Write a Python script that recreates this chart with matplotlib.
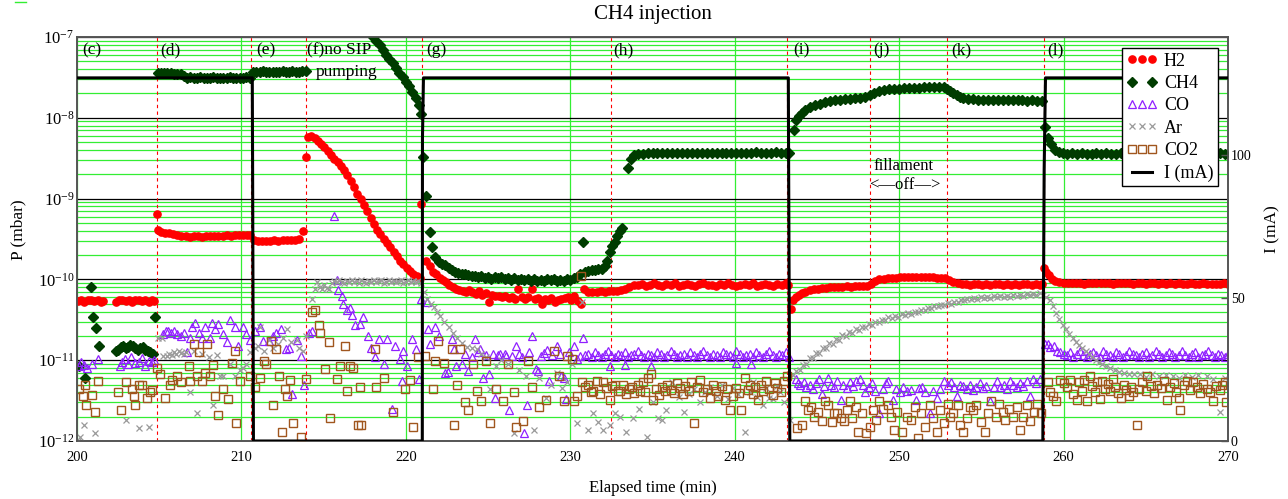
import numpy as np
import matplotlib
matplotlib.use('Agg')
import matplotlib.pyplot as plt
from matplotlib.lines import Line2D
from matplotlib.legend_handler import HandlerLine2D
from matplotlib.ticker import LogLocator, FuncFormatter, NullFormatter

plt.rcParams['font.family'] = ['Liberation Serif', 'DejaVu Serif']
plt.rcParams['mathtext.fontset'] = 'custom'
plt.rcParams['mathtext.rm'] = 'Liberation Serif'
plt.rcParams['mathtext.it'] = 'Liberation Serif:italic'

# (time in min, pressure) -- H2 in units of 1e-11 mbar
h2 = [
    (200.05, 5.4), (200.25, 5.6), (200.45, 5.3), (200.65, 5.5), (200.85, 5.6), (201.05, 5.4), (201.25, 5.5),
    (201.45, 5.3), (201.6, 5.4),
    (202.35, 5.3), (202.55, 5.5), (202.75, 5.6), (202.95, 5.4), (203.15, 5.5), (203.35, 5.3), (203.55, 5.5),
    (203.75, 5.6), (203.95, 5.4), (204.15, 5.5), (204.35, 5.3), (204.55, 5.6), (204.7, 5.4),
    (204.85, 65), (204.95, 41), (205.1, 39), (205.35, 38), (205.6, 37), (205.85, 36), (206.1, 35), (206.35, 34.5),
    (206.6, 34), (206.85, 33.5), (207.1, 34), (207.35, 34), (207.6, 33.5), (207.85, 34), (208.1, 34), (208.35, 34.5),
    (208.6, 34), (208.85, 34.5), (209.1, 35), (209.35, 34.5), (209.6, 35), (209.85, 35), (210.1, 35.5), (210.35, 35),
    (210.55, 35),
    (210.75, 31), (211.0, 30), (211.25, 29.5), (211.5, 30), (211.75, 30), (212.0, 30.5), (212.25, 30), (212.5, 30.5),
    (212.75, 30.5), (213.0, 31), (213.25, 31), (213.5, 32), (213.75, 40),
    (213.9, 330), (214.05, 580), (214.25, 590), (214.45, 570), (214.65, 520), (214.85, 470), (215.05, 430),
    (215.25, 390), (215.45, 350), (215.65, 310), (215.85, 280), (216.05, 250), (216.25, 225), (216.45, 195),
    (216.65, 165), (216.85, 140), (217.05, 115), (217.25, 98), (217.45, 83), (217.65, 70), (217.85, 58), (218.05, 48),
    (218.25, 41), (218.45, 36), (218.65, 32), (218.85, 28), (219.05, 25), (219.25, 22), (219.45, 19.5), (219.65, 17),
    (219.85, 15.5), (220.05, 14), (220.25, 12.8), (220.45, 11.8), (220.65, 11), (220.85, 10.4),
    (220.95, 85), (221.25, 17), (221.45, 14.5), (221.65, 12.5), (221.85, 11.5), (222.05, 10.5), (222.25, 9.8),
    (222.45, 9.2), (222.65, 8.5), (222.85, 8.0), (223.05, 7.6), (223.25, 7.4), (223.45, 7.2), (223.65, 7.0),
    (223.85, 7.3), (224.05, 6.9), (224.25, 6.6), (224.45, 7.2), (224.65, 6.5), (224.85, 6.8), (225.05, 5.3),
    (225.25, 6.4), (225.45, 6.2), (225.65, 6.3), (225.85, 6.0), (226.05, 6.2), (226.25, 5.9), (226.45, 6.1),
    (226.65, 5.8), (226.85, 7.6), (227.05, 6.0), (227.25, 5.8), (227.45, 6.1), (227.65, 7.6), (227.85, 5.7),
    (228.05, 5.9), (228.25, 5.0), (228.45, 5.8), (228.65, 5.6), (228.85, 5.9), (229.05, 5.2), (229.25, 5.5),
    (229.45, 5.7), (229.65, 5.9), (229.85, 6.1), (230.05, 5.6), (230.25, 6.3), (230.45, 5.4), (230.65, 5.0),
    (230.85, 7.5),
    (231.1, 6.9), (231.35, 7.0), (231.6, 7.0), (231.85, 7.1), (232.1, 7.0), (232.35, 7.1), (232.6, 7.2),
    (232.85, 7.2), (233.1, 7.3), (233.35, 7.6), (233.6, 8.1), (233.85, 8.5),
    (234.1, 8.6), (234.35, 8.7), (234.6, 8.4), (234.85, 8.6), (235.1, 8.9), (235.35, 8.6), (235.6, 8.4),
    (235.85, 8.7), (236.1, 8.6), (236.35, 8.9), (236.6, 8.4), (236.85, 8.6), (237.1, 8.7), (237.35, 8.6),
    (237.6, 8.4), (237.85, 8.7), (238.1, 8.9), (238.35, 8.6), (238.6, 8.6), (238.85, 8.4), (239.1, 8.7),
    (239.35, 8.6), (239.6, 8.9), (239.85, 8.6), (240.1, 8.4), (240.35, 8.6), (240.6, 8.7), (240.85, 8.6),
    (241.1, 8.9), (241.35, 8.4), (241.6, 8.6), (241.85, 8.7), (242.1, 8.6), (242.35, 8.4), (242.6, 8.7),
    (242.85, 8.6), (243.1, 8.9), (243.25, 8.6),
    (243.45, 4.3), (243.55, 5.5), (243.7, 6.0), (243.9, 6.5), (244.1, 6.8), (244.3, 7.0), (244.55, 7.3),
    (244.8, 7.5), (245.05, 7.6), (245.3, 7.8), (245.55, 7.9), (245.8, 8.0), (246.05, 8.0), (246.3, 8.1),
    (246.55, 8.1), (246.8, 8.2), (247.05, 8.1), (247.3, 8.2), (247.55, 8.2), (247.8, 8.3), (248.05, 8.3),
    (248.3, 8.8), (248.55, 9.5), (248.8, 10.0), (249.05, 10.2), (249.3, 10.4), (249.55, 10.5), (249.8, 10.5),
    (250.05, 10.6), (250.3, 10.6), (250.55, 10.7), (250.8, 10.6), (251.05, 10.7), (251.3, 10.6), (251.55, 10.7),
    (251.8, 10.6), (252.05, 10.6), (252.3, 10.5), (252.55, 10.5),
    (252.8, 10.3), (253.05, 9.8), (253.3, 9.2), (253.55, 8.9), (253.8, 8.7), (254.05, 8.7), (254.3, 8.6),
    (254.55, 8.7), (254.8, 8.8), (255.05, 8.6), (255.3, 8.7), (255.55, 8.6), (255.8, 8.7), (256.05, 8.8),
    (256.3, 8.6), (256.55, 8.7), (256.8, 8.6), (257.05, 8.7), (257.3, 8.6), (257.55, 8.8), (257.8, 8.7),
    (258.05, 8.6), (258.3, 8.7), (258.55, 8.6), (258.7, 8.7),
    (258.8, 14), (258.95, 12.5), (259.1, 11.2), (259.3, 10.0), (259.5, 9.5), (259.75, 9.2),
    (260.0, 9.1), (260.25, 9.0), (260.5, 8.9), (260.75, 9.1), (261.0, 9.0), (261.25, 8.8), (261.5, 9.0),
    (261.75, 9.1), (262.0, 8.9), (262.25, 9.0), (262.5, 8.9), (262.75, 9.0), (263.0, 8.8), (263.25, 9.0),
    (263.5, 9.1), (263.75, 8.9), (264.0, 9.0), (264.25, 8.8), (264.5, 8.9), (264.75, 9.0), (265.0, 8.8),
    (265.25, 8.9), (265.5, 9.0), (265.75, 8.8), (266.0, 8.9), (266.25, 8.7), (266.5, 8.9), (266.75, 8.8),
    (267.0, 8.9), (267.25, 8.7), (267.5, 8.8), (267.75, 8.9), (268.0, 8.7), (268.25, 8.8), (268.5, 8.9),
    (268.75, 8.7), (269.0, 8.8), (269.25, 8.7), (269.5, 8.8), (269.75, 8.9), (270.0, 8.8),
]

# CH4 in units of 1e-11 mbar
ch4 = [
    (200.1, 0.85), (200.5, 0.6), (200.85, 8.0), (201.0, 3.4), (201.15, 2.5), (201.35, 1.5),
    (202.35, 1.3), (202.5, 1.35), (202.65, 1.45), (202.8, 1.5), (202.95, 1.4), (203.1, 1.45), (203.25, 1.55),
    (203.4, 1.5), (203.55, 1.4), (203.7, 1.35), (203.85, 1.4), (204.0, 1.45), (204.15, 1.35), (204.3, 1.3),
    (204.45, 1.25), (204.6, 1.2), (204.75, 3.4),
    (204.9, 3550), (205.1, 3600), (205.3, 3550), (205.5, 3600), (205.7, 3550), (205.9, 3500), (206.1, 3500),
    (206.3, 3450), (206.5, 3250), (206.7, 3150), (206.9, 3200), (207.1, 3150), (207.3, 3150), (207.5, 3200),
    (207.7, 3100), (207.9, 3150), (208.1, 3150), (208.3, 3200), (208.5, 3150), (208.7, 3100), (208.9, 3150),
    (209.1, 3150), (209.3, 3200), (209.5, 3150), (209.7, 3150), (209.9, 3100), (210.1, 3150), (210.3, 3200),
    (210.5, 3150),
    (210.7, 3650), (210.9, 3700), (211.1, 3700), (211.3, 3750), (211.5, 3700), (211.7, 3700), (211.9, 3650),
    (212.1, 3700), (212.3, 3700), (212.5, 3750), (212.7, 3700), (212.9, 3700), (213.1, 3750), (213.3, 3700),
    (213.5, 3700), (213.7, 3750), (213.9, 3800),
    (217.8, 11500), (218.0, 10000), (218.2, 8900), (218.4, 7900), (218.6, 6900), (218.8, 6000), (219.0, 5300),
    (219.2, 4700), (219.4, 4100), (219.6, 3600), (219.8, 3200), (220.0, 2800), (220.2, 2500), (220.4, 2100),
    (220.6, 1750), (220.8, 1450), (220.9, 1100),
    (221.05, 330), (221.25, 107), (221.45, 39), (221.6, 25), (221.8, 19), (222.0, 16.5), (222.2, 15.5),
    (222.4, 15), (222.6, 14), (222.8, 13.2), (223.0, 12.5), (223.2, 12), (223.4, 11.5), (223.6, 11.5),
    (223.8, 11.2), (224.0, 11), (224.2, 11), (224.4, 10.6), (224.6, 10.9), (224.8, 10.4), (225.0, 10.8),
    (225.2, 10.2), (225.4, 10.6), (225.6, 10.3), (225.8, 10.7), (226.0, 10.1), (226.2, 10.4), (226.4, 9.9),
    (226.6, 10.3), (226.8, 9.8), (227.0, 10.2), (227.2, 9.7), (227.4, 10.1), (227.6, 9.6), (227.8, 10.0),
    (228.0, 9.5), (228.2, 9.9), (228.4, 9.6), (228.6, 10.2), (228.8, 9.7), (229.0, 10.0), (229.2, 9.5),
    (229.4, 9.9), (229.6, 9.6), (229.8, 10.1), (230.0, 9.8), (230.2, 10.3), (230.4, 10.6), (230.6, 11.5),
    (230.8, 29), (230.9, 12.5), (231.1, 12.8), (231.3, 13.0), (231.5, 13.2), (231.7, 13.5), (231.9, 13.6),
    (232.1, 14.5), (232.25, 17), (232.4, 22), (232.55, 26), (232.7, 29), (232.85, 34), (233.0, 40),
    (233.15, 43), (233.5, 240), (233.7, 310), (233.9, 345),
    (234.1, 355), (234.4, 360), (234.7, 365), (235.0, 368), (235.3, 365), (235.6, 370), (235.9, 366),
    (236.2, 372), (236.5, 368), (236.8, 365), (237.1, 370), (237.4, 367), (237.7, 372), (238.0, 368),
    (238.3, 370), (238.6, 366), (238.9, 372), (239.2, 369), (239.5, 366), (239.8, 371), (240.1, 368),
    (240.4, 372), (240.7, 367), (241.0, 370), (241.3, 373), (241.6, 368), (241.9, 371), (242.2, 369),
    (242.5, 373), (242.8, 370), (243.1, 372), (243.3, 370),
    (243.6, 710), (243.75, 940), (243.9, 1050), (244.1, 1150), (244.3, 1250), (244.6, 1370), (244.9, 1430),
    (245.2, 1500), (245.5, 1560), (245.8, 1620), (246.1, 1660), (246.4, 1680), (246.7, 1700), (247.0, 1720),
    (247.3, 1740), (247.6, 1760), (247.9, 1790), (248.2, 1900), (248.5, 2050), (248.8, 2150), (249.1, 2200),
    (249.4, 2240), (249.7, 2270), (250.0, 2300), (250.3, 2320), (250.6, 2330), (250.9, 2350), (251.2, 2360),
    (251.5, 2380), (251.8, 2390), (252.1, 2400), (252.4, 2420), (252.7, 2380), (252.9, 2300), (253.1, 2150),
    (253.3, 2000), (253.5, 1900), (253.7, 1820), (253.9, 1760), (254.2, 1720), (254.5, 1690), (254.8, 1670),
    (255.1, 1660), (255.4, 1650), (255.7, 1650), (256.0, 1640), (256.3, 1650), (256.6, 1640), (256.9, 1640),
    (257.2, 1650), (257.5, 1640), (257.8, 1630), (258.1, 1640), (258.4, 1630), (258.7, 1630),
    (258.85, 780), (259.05, 560), (259.25, 470), (259.45, 400), (259.7, 375), (259.95, 365), (260.2, 360),
    (260.5, 362), (260.8, 358), (261.1, 363), (261.4, 360), (261.7, 357), (262.0, 362), (262.3, 359),
    (262.6, 364), (262.9, 360), (263.2, 357), (263.5, 362), (263.8, 359), (264.1, 363), (264.4, 360),
    (264.7, 357), (265.0, 362), (265.3, 359), (265.6, 364), (265.9, 360), (266.2, 358), (266.5, 362),
    (266.8, 359), (267.1, 363), (267.4, 360), (267.7, 357), (268.0, 362), (268.3, 359), (268.6, 363),
    (268.9, 360), (269.2, 358), (269.5, 362), (269.8, 360),
]

# CO in units of 1e-12 mbar
co = [
    (200.1, 8.5), (200.25, 9.5), (200.4, 8.7), (200.6, 8.0), (200.9, 9.0), (201.3, 10.3), (202.6, 8.5),
    (202.75, 9.5), (202.9, 10.3), (203.1, 9.0), (203.3, 11), (203.5, 9.3), (203.75, 9.5), (203.95, 10.5),
    (204.15, 8.5), (204.35, 9.8), (204.55, 9.5), (204.7, 10.2),
    (205.2, 21), (205.4, 23), (205.55, 23), (205.7, 22), (205.9, 23), (206.1, 21), (206.3, 20), (206.5, 22),
    (206.7, 12.5), (206.85, 19), (207.0, 25.5), (207.2, 29), (207.4, 22), (207.6, 19), (207.8, 25.5),
    (208.1, 19), (208.2, 29), (208.4, 24), (208.6, 28), (208.9, 21), (209.1, 17), (209.3, 31), (209.6, 25.5),
    (209.8, 15), (210.1, 25.5), (210.3, 21), (210.5, 18), (210.8, 23), (211.1, 25.5), (211.3, 17.5),
    (211.65, 17.5), (211.9, 20), (212.1, 22), (212.4, 24), (212.7, 13.7), (212.9, 14), (213.1, 3.8),
    (213.4, 18), (213.6, 11.3), (213.8, 4.9), (214.1, 22), (214.3, 23),
    (215.6, 610), (215.8, 97), (215.9, 73), (216.1, 63), (216.2, 50), (216.4, 42), (216.6, 44), (216.7, 36),
    (216.9, 27), (217.2, 28), (217.4, 34), (217.7, 20), (217.9, 14), (218.1, 10.8), (218.35, 18.3),
    (218.65, 9), (218.85, 18.3), (219.15, 2.5), (219.35, 15), (219.65, 10.3), (219.75, 5.5), (219.85, 13),
    (220.05, 8.5), (220.4, 18.3), (220.6, 13.7), (220.8, 5.8), (220.9, 57), (221.3, 52), (221.35, 24),
    (221.45, 15.8), (221.75, 25.5), (222.0, 20), (222.4, 7), (222.55, 7.2), (222.8, 18.3), (222.9, 13.7),
    (223.05, 8.5), (223.4, 9), (223.6, 12), (223.8, 7.4), (224.0, 11), (224.2, 18.3), (224.4, 12.5),
    (224.5, 13.7), (224.7, 6.1), (224.9, 11.5), (225.05, 6.8), (225.3, 12), (225.4, 3.4), (225.6, 11.5),
    (225.75, 12), (226.0, 12), (226.1, 11.3), (226.3, 2.4), (226.45, 11.2), (226.7, 15), (226.9, 11.8),
    (227.05, 10.8), (227.2, 1.25), (227.35, 2.8), (227.5, 12.6), (227.7, 20), (227.9, 7.8), (228.05, 7.4),
    (228.2, 11.3), (228.4, 12.2), (228.6, 13.5), (228.7, 5.5), (228.9, 11.5), (229.2, 15), (229.35, 12),
    (229.45, 6.4), (229.6, 6.1), (229.75, 3.3), (229.9, 12.5), (230.2, 15), (230.4, 10.3), (230.6, 11.3),
    (230.75, 19),
    (230.9, 11.5), (231.1, 12), (231.3, 11), (231.5, 12.5), (231.7, 11.5), (231.9, 11), (232.1, 12),
    (232.3, 13), (232.5, 11.5), (232.7, 11), (232.9, 12), (233.1, 11.5), (233.3, 12.5), (233.5, 11),
    (233.7, 11.5), (233.9, 12), (234.1, 13), (234.3, 11.5), (234.5, 11), (234.7, 12), (234.9, 11.5),
    (235.1, 11), (235.3, 12.5), (235.5, 12), (235.7, 11), (235.9, 11.5), (236.1, 13), (236.3, 12),
    (236.5, 11), (236.7, 11.5), (236.9, 12), (237.1, 11), (237.3, 12.5), (237.5, 11.5), (237.7, 11),
    (237.9, 12), (238.1, 13), (238.3, 11.5), (238.5, 11), (238.7, 12), (238.9, 11.5), (239.1, 11),
    (239.3, 12.5), (239.5, 12), (239.7, 11.5), (239.9, 11), (240.1, 13), (240.3, 12), (240.5, 11),
    (240.7, 11.5), (240.9, 12), (241.1, 11), (241.3, 12.5), (241.5, 11.5), (241.7, 11), (241.9, 12),
    (242.1, 13), (242.3, 11.5), (242.5, 11), (242.7, 12), (242.9, 11.5), (243.1, 12.5), (243.3, 11),
    (232.4, 8.5), (233.3, 8.7), (234.9, 8.5), (240.1, 9.3), (241.0, 9.0),
    (243.7, 5.8), (243.85, 5.2), (244.0, 4.9), (244.2, 5.3), (244.35, 4.6), (244.55, 5.0), (244.75, 4.4),
    (244.95, 5.2), (245.15, 5.8), (245.3, 3.8), (245.45, 4.8), (245.65, 6.1), (245.85, 5.0), (246.05, 4.6),
    (246.2, 5.6), (246.45, 3.2), (246.6, 5.0), (246.8, 4.5), (247.0, 5.4), (247.2, 4.8), (247.4, 5.6),
    (247.6, 5.8), (247.8, 5.0), (247.95, 4.0), (248.15, 4.6), (248.35, 5.2), (248.55, 4.2), (248.8, 2.2),
    (249.0, 4.4), (249.2, 5.2), (249.35, 5.5), (249.6, 3.2), (249.8, 4.4), (250.05, 4.0), (250.25, 4.6),
    (250.5, 4.2), (250.75, 4.3), (251.0, 3.2), (251.2, 4.5), (251.4, 4.6), (251.6, 4.0), (251.85, 2.2),
    (252.05, 4.2), (252.3, 3.4), (252.5, 4.4), (252.75, 5.5), (252.95, 5.0), (253.15, 5.3), (253.35, 4.7),
    (253.5, 3.6), (253.7, 5.0), (253.9, 4.8), (254.1, 4.4), (254.3, 5.0), (254.5, 4.3), (254.7, 4.7),
    (254.9, 5.2), (255.1, 4.5), (255.3, 4.8), (255.55, 3.1), (255.75, 4.6), (255.95, 5.5), (256.15, 4.7),
    (256.35, 5.0), (256.55, 4.4), (256.75, 5.5), (256.95, 5.0), (257.15, 4.6), (257.35, 5.2), (257.55, 4.8),
    (257.75, 5.6), (257.95, 3.6), (258.15, 5.8), (258.35, 5.2), (258.55, 5.8),
    (258.9, 15.8), (259.05, 16), (259.2, 14.5), (259.4, 15), (259.6, 13), (259.8, 12.5),
    (260.0, 12), (260.2, 11.5), (260.4, 12.5), (260.6, 11), (260.8, 12), (261.0, 13), (261.2, 11.5),
    (261.4, 11), (261.6, 12), (261.8, 12.5), (262.0, 11.5), (262.2, 11), (262.4, 13), (262.6, 12),
    (262.8, 11.5), (263.0, 11), (263.2, 12.5), (263.4, 12), (263.6, 11), (263.8, 11.5), (264.0, 13),
    (264.2, 12), (264.4, 11.5), (264.6, 11), (264.8, 12), (265.0, 12.5), (265.2, 11), (265.4, 11.5),
    (265.6, 13), (265.8, 12), (266.0, 11), (266.2, 11.5), (266.4, 12.5), (266.6, 12), (266.8, 11),
    (267.0, 11.5), (267.2, 13), (267.4, 11.5), (267.6, 11), (267.8, 12), (268.0, 12.5), (268.2, 11),
    (268.4, 11.5), (268.6, 12), (268.8, 13), (269.0, 11.5), (269.2, 11), (269.4, 12), (269.6, 11.5),
    (269.8, 11), (270.0, 12),
]

# Ar in units of 1e-12 mbar
ar = [
    (200.05, 1.0), (200.2, 1.13), (200.4, 1.58), (201.1, 1.26), (203.0, 1.8), (203.75, 1.43), (204.35, 1.5),
    (204.95, 19), (205.15, 19), (205.25, 11.3), (205.45, 11.3), (205.6, 12), (205.75, 11.5), (205.9, 12.5),
    (206.05, 12), (206.2, 13), (206.35, 12.2), (206.5, 11.8), (206.65, 12.5), (206.9, 4), (207.1, 13),
    (207.3, 2.2), (207.6, 12), (208.0, 11), (208.3, 2.8), (208.5, 11.5), (208.7, 6.4), (208.9, 6.4),
    (209.3, 9), (209.6, 6.4), (209.9, 7.5), (210.1, 8), (210.3, 9), (210.5, 12.5), (210.8, 14), (211.0, 15),
    (211.1, 25.5), (211.4, 13), (211.65, 18), (211.9, 14), (212.2, 16), (212.5, 19), (212.75, 24), (213.0, 17),
    (213.35, 18), (213.5, 14), (213.75, 13), (213.95, 20), (214.3, 57), (214.45, 76),
    (214.6, 93), (214.75, 80), (214.9, 75), (215.05, 85), (215.2, 78), (215.35, 76), (215.5, 90), (215.65, 95),
    (215.8, 92), (215.95, 97), (216.1, 93), (216.25, 90), (216.4, 96), (216.55, 94), (216.7, 99), (216.85, 92),
    (217.0, 95), (217.15, 91), (217.3, 97), (217.45, 94), (217.6, 90), (217.75, 96), (217.9, 93), (218.05, 98),
    (218.2, 92), (218.35, 95), (218.5, 97), (218.65, 91), (218.8, 94), (218.95, 99), (219.1, 93), (219.25, 96),
    (219.4, 92), (219.55, 95), (219.7, 98), (219.85, 91), (220.0, 94), (220.15, 97), (220.3, 93), (220.45, 96),
    (220.6, 92), (220.75, 95), (220.9, 90),
    (221.1, 70), (221.3, 57), (221.5, 50), (221.7, 45), (221.9, 40), (222.1, 35.5), (222.35, 30), (222.6, 25.5),
    (222.85, 22), (223.1, 19), (223.4, 16.5), (223.7, 14.4), (224.0, 14), (224.3, 13.7), (224.6, 12),
    (224.9, 11), (225.1, 4.4), (225.5, 8.5), (225.8, 10), (226.2, 9), (226.6, 1.25), (226.9, 7.5),
    (227.3, 6.4), (227.8, 1.35), (228.1, 6), (228.5, 3.4), (228.8, 5), (229.2, 7), (229.5, 4.5), (229.8, 5.3),
    (230.1, 9), (230.4, 1.65), (230.7, 52), (231.1, 1.35), (231.4, 2.2), (231.7, 1.7), (232.0, 1.35),
    (232.4, 1.6), (232.7, 2.2), (233.0, 2.0), (233.4, 1.3), (233.8, 1.9), (234.2, 2.5), (234.65, 1.13),
    (235.0, 3.0), (235.35, 1.9), (235.6, 1.8), (235.85, 2.4), (236.2, 5.3), (236.6, 3.5), (236.9, 2.3),
    (237.2, 3.8), (237.5, 4.4), (237.9, 3.0), (238.2, 4.0), (238.5, 4.6), (238.9, 3.6), (239.2, 4.9),
    (239.6, 3.3), (239.9, 4.5), (240.2, 3.8), (240.6, 1.3), (240.9, 4.0), (241.1, 5.3), (241.35, 3.5),
    (241.7, 2.8), (241.9, 4.5), (242.1, 3.4), (242.35, 3.3), (242.55, 4.8), (242.75, 4.0), (243.0, 3.0),
    (243.35, 1.8),
    (243.55, 6.5), (243.75, 7.4), (243.95, 7.6), (244.15, 8.8), (244.35, 9.0), (244.55, 10.6), (244.75, 10.7),
    (244.95, 12.2), (245.15, 12.3), (245.35, 14.1), (245.55, 14.2), (245.75, 16.2), (245.95, 16.0),
    (246.15, 18.2), (246.35, 18.0), (246.55, 20.3), (246.75, 20.0), (246.95, 22.3), (247.15, 22.0),
    (247.35, 24.0), (247.55, 23.5), (247.75, 25.8), (247.95, 25.4), (248.15, 27.8), (248.35, 27.4),
    (248.55, 29.8), (248.75, 29.4), (248.95, 31.8), (249.15, 31.2), (249.35, 33.8), (249.55, 33.3),
    (249.75, 35.2), (249.95, 34.6), (250.15, 36.8), (250.35, 36.0), (250.55, 38.0), (250.75, 37.4),
    (250.95, 39.8), (251.15, 39.5), (251.35, 42.3), (251.55, 42.2), (251.75, 44.8), (251.95, 44.2),
    (252.15, 46.8), (252.35, 46.2), (252.55, 48.8), (252.75, 48.2), (252.95, 50.8), (253.15, 50.2),
    (253.35, 52.8), (253.55, 52.8), (253.75, 56.0), (253.95, 55.0), (254.15, 58.0), (254.35, 56.8),
    (254.55, 59.0), (254.75, 57.8), (254.95, 60.2), (255.15, 58.8), (255.35, 61.2), (255.55, 59.0),
    (255.75, 61.8), (255.95, 60.2), (256.15, 62.0), (256.35, 60.8), (256.55, 63.0), (256.75, 61.2),
    (256.95, 63.5), (257.15, 62.0), (257.35, 64.5), (257.55, 63.0), (257.75, 65.5), (257.95, 64.0),
    (258.15, 66.5), (258.35, 65.0), (258.55, 68.0), (258.75, 64.0),
    (258.95, 60), (259.15, 55), (259.35, 47), (259.55, 38), (259.75, 32), (259.95, 27), (260.15, 24),
    (260.35, 21), (260.55, 19), (260.75, 17), (260.95, 15.5), (261.15, 14), (261.35, 13), (261.55, 12),
    (261.75, 11), (261.95, 10.2), (262.15, 9.6), (262.35, 9), (262.55, 8.5), (262.8, 8), (263.1, 7.5),
    (263.4, 7.2), (263.7, 7), (264.0, 6.8), (264.3, 6.7), (264.65, 6.7), (265.0, 6.2), (265.4, 6.8),
    (265.8, 6.3), (266.2, 6.6), (266.65, 6.4), (267.0, 6.0), (267.4, 6.6), (267.8, 6.2), (268.2, 6.5),
    (268.7, 6.4), (269.1, 5.8), (269.5, 2.3), (269.8, 6.0),
]

# CO2 in units of 1e-12 mbar
co2 = [
    (200.15, 4.4), (200.35, 3.6), (200.5, 4.9), (200.55, 2.8), (200.9, 3.7), (201.1, 2.3), (201.3, 5.5),
    (202.5, 4.0), (202.7, 2.4), (203.0, 5.3), (203.35, 4.4), (203.45, 3.6), (203.55, 2.8), (203.75, 4.9),
    (203.95, 4.9), (204.25, 3.4), (204.45, 4.0), (204.55, 4.3), (204.85, 8.0), (205.05, 6.7), (205.35, 3.4),
    (205.65, 4.9), (205.8, 5.7), (206.1, 6.4), (206.3, 5.3), (206.8, 8.5), (206.9, 5.5), (207.1, 15.8),
    (207.3, 6.4), (207.4, 12.5), (207.6, 5.5), (207.8, 7.0), (207.9, 15.8), (208.1, 6.4), (208.3, 8.7),
    (208.4, 3.6), (208.6, 2.1), (208.9, 4.4), (209.2, 3.3), (209.4, 9.3), (209.6, 13), (209.7, 1.65),
    (209.9, 5.5), (210.5, 6.4), (210.8, 4.6), (211.1, 6.1), (211.4, 9.8), (211.5, 9.0), (211.8, 17.5),
    (211.9, 2.8), (212.1, 13.7), (212.3, 6.4), (212.45, 1.3), (212.65, 4.4), (212.75, 3.6), (212.95, 5.7),
    (213.15, 1.65), (213.65, 1.13), (213.95, 5.8), (214.3, 39), (214.5, 42), (214.7, 27), (214.8, 22),
    (215.1, 7.8), (215.3, 16.6), (215.4, 1.9), (215.8, 5.8), (216.0, 8.5), (216.3, 15), (216.4, 4.2),
    (216.6, 8.5), (216.8, 8.0), (217.1, 1.6), (217.25, 1.6), (217.2, 4.6), (218.1, 13.7), (218.2, 4.6),
    (218.7, 6.1), (219.2, 2.3), (219.95, 4.4), (220.25, 5.7), (220.45, 1.5), (220.75, 10.8), (221.15, 11.3),
    (221.65, 4.4), (221.75, 9.8), (221.95, 17.5), (222.35, 9.3), (222.8, 13.7), (222.9, 1.6), (223.1, 4.9),
    (223.3, 13.7), (223.6, 3.0), (223.8, 2.4), (224.1, 9.0), (224.3, 4.2), (224.6, 3.1), (224.9, 9.8),
    (225.1, 1.65), (225.5, 4.4), (225.9, 3.1), (226.2, 9.0), (226.6, 4.0), (226.7, 1.5), (227.1, 1.75),
    (227.4, 9.8), (227.7, 4.6), (228.1, 2.6), (228.5, 3.2), (229.0, 13), (229.3, 6.4), (229.6, 3.1),
    (229.8, 11.3), (230.1, 10.3), (230.2, 3.1), (230.4, 3.6), (230.65, 110),
    (230.7, 5.3), (230.9, 4.6), (231.1, 5.0), (231.25, 4.0), (231.4, 4.2), (231.6, 5.5), (231.8, 3.8),
    (232.0, 5.3), (232.2, 4.5), (232.4, 3.2), (232.55, 4.8), (232.7, 4.9), (232.9, 4.2), (233.0, 4.1),
    (233.2, 5.0), (233.4, 3.8), (233.55, 4.4), (233.75, 4.7), (233.9, 3.9), (234.1, 4.9), (234.25, 4.2),
    (234.4, 5.3), (234.55, 4.0), (234.7, 6.1), (234.9, 6.7), (235.0, 3.2), (235.2, 4.4), (235.4, 3.7),
    (235.55, 4.6), (235.75, 4.1), (235.9, 5.0), (236.1, 4.3), (236.3, 3.9), (236.5, 5.2), (236.65, 4.5),
    (236.85, 3.8), (237.0, 4.8), (237.2, 4.2), (237.35, 5.4), (237.5, 1.65), (237.7, 4.6), (237.9, 5.7),
    (238.1, 4.0), (238.3, 4.4), (238.5, 3.4), (238.7, 5.0), (238.85, 4.2), (239.0, 3.6), (239.2, 4.8),
    (239.4, 3.2), (239.55, 4.4), (239.7, 2.4), (239.9, 3.6), (240.05, 4.5), (240.25, 3.9), (240.4, 2.4),
    (240.6, 6.1), (240.8, 4.3), (240.95, 5.0), (241.1, 3.8), (241.25, 4.6), (241.4, 3.2), (241.6, 4.9),
    (241.75, 4.1), (241.9, 5.5), (242.1, 4.4), (242.3, 3.7), (242.45, 5.2), (242.6, 4.5), (242.8, 4.0),
    (243.0, 5.6), (243.15, 6.4),
    (243.8, 1.43), (244.1, 1.6), (244.25, 3.1), (244.45, 2.4), (244.65, 2.6), (244.85, 2.0), (245.05, 2.3),
    (245.3, 1.75), (245.5, 3.1), (245.65, 2.8), (245.9, 1.7), (246.05, 2.2), (246.2, 2.2), (246.45, 1.9),
    (246.65, 1.75), (246.85, 2.4), (247.0, 3.1), (247.15, 1.9), (247.35, 2.6), (247.5, 1.3), (247.75, 2.2),
    (248.0, 1.25), (248.2, 1.5), (248.4, 2.4), (248.6, 1.8), (248.8, 3.1), (249.0, 2.5), (249.3, 2.8),
    (249.5, 2.0), (249.7, 1.35), (249.9, 2.3), (250.2, 1.3), (250.45, 2.0), (250.75, 1.8), (250.95, 2.6),
    (251.15, 1.08), (251.35, 2.2), (251.6, 1.5), (251.85, 2.8), (252.05, 1.9), (252.3, 1.3), (252.5, 2.4),
    (252.7, 1.65), (252.95, 2.9), (253.1, 2.0), (253.3, 2.2), (253.55, 2.8), (253.7, 1.6), (253.9, 1.3),
    (254.1, 1.9), (254.3, 2.6), (254.5, 2.4), (254.7, 2.8), (254.95, 1.7), (255.2, 1.3), (255.4, 2.2),
    (255.6, 3.1), (255.9, 2.0), (256.1, 2.9), (256.3, 2.3), (256.45, 1.8), (256.7, 2.5), (256.95, 2.0),
    (257.15, 2.6), (257.35, 1.35), (257.55, 2.0), (257.75, 2.8), (257.95, 1.75), (258.2, 2.3), (258.4, 2.9),
    (258.6, 2.2),
    (259.05, 5.3), (259.2, 4.0), (259.35, 3.6), (259.55, 3.1), (259.8, 5.7), (260.0, 5.2), (260.2, 4.6),
    (260.4, 5.7), (260.6, 3.8), (260.8, 3.2), (260.95, 5.4), (261.1, 4.2), (261.25, 5.7), (261.4, 3.1),
    (261.6, 6.4), (261.75, 4.8), (261.9, 4.0), (262.05, 5.3), (262.2, 3.3), (262.35, 5.6), (262.5, 4.4),
    (262.7, 5.1), (262.85, 4.2), (263.0, 5.8), (263.15, 4.7), (263.3, 3.9), (263.5, 3.4), (263.65, 5.0),
    (263.8, 4.3), (263.95, 3.6), (264.1, 4.6), (264.2, 4.0), (264.45, 1.6), (264.6, 4.4), (264.8, 5.3),
    (265.0, 4.2), (265.1, 6.4), (265.3, 4.8), (265.5, 3.9), (265.7, 5.0), (265.9, 4.5), (266.1, 5.6),
    (266.3, 3.2), (266.5, 4.7), (266.7, 5.2), (266.85, 4.0), (267.0, 3.4), (267.1, 2.4), (267.3, 4.9),
    (267.5, 5.6), (267.7, 4.3), (267.9, 5.4), (268.1, 4.6), (268.3, 3.9), (268.5, 5.1), (268.7, 4.4),
    (268.9, 4.0), (269.1, 3.1), (269.3, 4.8), (269.5, 4.3), (269.65, 5.0), (269.8, 5.3), (269.9, 3.0),
]

# filament current (mA), right axis
i_t = [200.0, 210.66, 210.68, 210.73, 221.0, 221.01, 221.07, 243.26, 243.28, 243.35,
       258.74, 258.76, 258.82, 258.9, 270.0]
i_ma = [127, 127, 95, 0, 0, 106, 127, 127, 95, 0, 0, 32, 95, 127, 127]

# phase markers
period_t = [204.84, 210.6, 213.9, 221.0, 232.45, 243.2, 248.2, 252.9, 258.8]
period_labels = ['(c)', '(d)', '(e)', '(f)no SIP', '(g)', '(h)', '(i)', '(j)', '(k)', '(l)']
label_t = [200.3, 205.05, 210.9, 213.97, 221.23, 232.62, 243.57, 248.4, 253.15, 258.98]


def unpack(points, scale):
    t = np.array([p[0] for p in points])
    v = np.array([p[1] for p in points]) * scale
    return t, v


fig = plt.figure(figsize=(12.88, 4.99), dpi=100)
ax = fig.add_axes([77 / 1288, 58 / 499, 1151 / 1288, 404 / 499])

t, v = unpack(h2, 1e-11)
l_h2, = ax.plot(t, v, ls='none', marker='o', ms=5.2, color='#ff0000', mec='#ff0000', label='H2', zorder=3)
t, v = unpack(ch4, 1e-11)
l_ch4, = ax.plot(t, v, ls='none', marker='D', ms=4.6, color='#003c00', mec='#003c00', label='CH4', zorder=3)
t, v = unpack(co, 1e-12)
l_co, = ax.plot(t, v, ls='none', marker='^', ms=6.0, mfc='none', mec='#9020ff', mew=0.9, label='CO', zorder=3)
t, v = unpack(ar, 1e-12)
l_ar, = ax.plot(t, v, ls='none', marker='x', ms=5.0, color='#999999', mew=0.9, label='Ar', zorder=3)
t, v = unpack(co2, 1e-12)
l_co2, = ax.plot(t, v, ls='none', marker='s', ms=5.4, mfc='none', mec='#a0561e', mew=1.0, label='CO2', zorder=3)

ax.set_xlim(200, 270)
ax.set_yscale('log')
ax.set_ylim(1e-12, 1e-7)
ax.set_xticks(range(200, 271, 10))
ax.yaxis.set_major_locator(LogLocator(base=10, numticks=10))
ax.yaxis.set_minor_locator(LogLocator(base=10, subs=np.arange(2, 10), numticks=20))
ax.yaxis.set_minor_formatter(NullFormatter())
ax.yaxis.set_major_formatter(FuncFormatter(lambda val, pos: r'$10^{%d}$' % round(np.log10(val))))
ax.set_axisbelow(True)
ax.grid(which='major', axis='y', color='black', lw=0.9)
ax.grid(which='minor', axis='y', color='#33ee33', lw=0.9)
ax.grid(which='major', axis='x', color='#33ee33', lw=0.9)
ax.tick_params(which='both', length=0)
ax.tick_params(axis='y', pad=2, labelsize=12)
ax.tick_params(axis='x', pad=7, labelsize=10.5)

for tx in period_t:
    ax.axvline(tx, color='red', ls=(0, (3, 3)), lw=0.8, zorder=1.5)

trans = ax.get_xaxis_transform()
for tx, lab in zip(label_t, period_labels):
    ax.text(tx, 0.968, lab, transform=trans, ha='left', va='center', fontsize=12.5)
ax.text(214.54, 0.913, 'pumping', transform=trans, ha='left', va='center', fontsize=12.5)
ax.text(248.42, 0.681, 'fillament', transform=trans, ha='left', va='center', fontsize=12)
ax.text(248.17, 0.634, '<\u2014off\u2014>', transform=trans, ha='left', va='center', fontsize=12)

ax2 = ax.twinx()
l_i, = ax2.plot(i_t, i_ma, color='black', lw=2.2, label='I (mA)', zorder=5)
ax2.set_ylim(0, 141.3)
ax2.set_yticks([0, 50, 100])
ax2.tick_params(axis='y', direction='in', length=5, width=1, pad=2, labelsize=10, color='#555555')

for a in (ax, ax2):
    for s in a.spines.values():
        s.set_color('#555555')
        s.set_linewidth(1.2)


def ch4_legend_update(legend_handle, orig_handle):
    legend_handle.update_from(orig_handle)
    legend_handle.set_markevery([0, 2])


leg = ax2.legend([l_h2, l_ch4, l_co, l_ar, l_co2, l_i], ['H2', 'CH4', 'CO', 'Ar', 'CO2', 'I (mA)'],
                 loc='upper right', bbox_to_anchor=(1218 / 1288, 1 - 48 / 499), bbox_transform=fig.transFigure,
                 borderaxespad=0, fancybox=False, edgecolor='black', framealpha=1, fontsize=13, numpoints=3,
                 handlelength=1.7, handletextpad=0.35, labelspacing=0.3, borderpad=0.25,
                 handler_map={l_ch4: HandlerLine2D(numpoints=3, update_func=ch4_legend_update)})
leg.get_frame().set_linewidth(1.0)

fig.text(652.5 / 1288, 1 - 15 / 499, 'CH4 injection', ha='center', va='center', fontsize=15)
fig.text(652.5 / 1288, 1 - 488 / 499, 'Elapsed time (min)', ha='center', va='center', fontsize=12)
fig.text(18 / 1288, 0.54, 'P (mbar)', rotation=90, ha='center', va='center', fontsize=12.5)
fig.text(1272 / 1288, 0.54, 'I (mA)', rotation=90, ha='center', va='center', fontsize=12.5)
fig.add_artist(Line2D([15 / 1288, 26 / 1288], [1 - 2 / 499, 1 - 2 / 499], color='#33ee33', lw=1,
                      transform=fig.transFigure))

fig.savefig('out.png', dpi=100)
